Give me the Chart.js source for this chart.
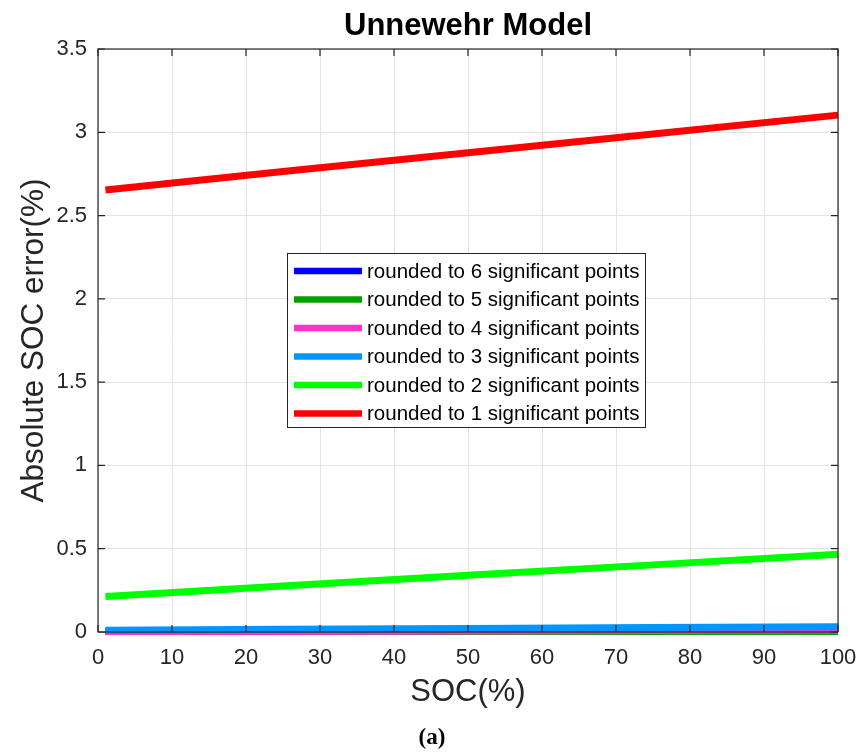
<!DOCTYPE html>
<html>
<head>
<meta charset="utf-8">
<title>Unnewehr Model</title>
<script src="https://cdn.jsdelivr.net/npm/chart.js@4.4.1/dist/chart.umd.min.js"></script>
<style>
  html, body { margin: 0; padding: 0; background: #fff; }
  #wrap { width: 861px; height: 756px; position: relative; }
</style>
</head>
<body>
<div id="wrap"><canvas id="socChart" width="861" height="756"></canvas></div>
<script>
// SOC sample points (%)
const socPoints = [1, 25, 50, 75, 100];

// absolute SOC error (%) for each rounding level
const err6 = [0.000, 0.000, 0.000, 0.000, 0.000];
const err5 = [0.000, 0.000, 0.000, 0.000, 0.000];
const err4 = [0.000, 0.003, 0.006, 0.009, 0.012];
const err3 = [0.010, 0.016, 0.021, 0.027, 0.032];
const err2 = [0.213, 0.276, 0.340, 0.403, 0.467];
const err1 = [2.653, 2.765, 2.877, 2.990, 3.103];

const seriesLabels = [
  'rounded to 6 significant points',
  'rounded to 5 significant points',
  'rounded to 4 significant points',
  'rounded to 3 significant points',
  'rounded to 2 significant points',
  'rounded to 1 significant points'
];
const seriesColors = ['#0000ff', '#00a000', '#ff33cc', '#0096ff', '#00ff00', '#ff0000'];

const xTicks = [0, 10, 20, 30, 40, 50, 60, 70, 80, 90, 100];
const yTicks = [0, 0.5, 1, 1.5, 2, 2.5, 3, 3.5];

const FONT = "'Liberation Sans', Arial, Helvetica, sans-serif";
const AXIS_COLOR = '#262626';

function toPoints(ys) {
  return socPoints.map((x, i) => ({ x: x, y: ys[i] }));
}

const allSeries = [err6, err5, err4, err3, err2, err1];

const datasets = allSeries.map((ys, i) => ({
  label: seriesLabels[i],
  data: toPoints(ys),
  borderColor: seriesColors[i],
  backgroundColor: seriesColors[i],
  borderWidth: 7,
  pointRadius: 0,
  tension: 0,
  fill: false,
  clip: 3,
  // later series sit on top, like a plot with hold on
  order: allSeries.length - i
}));

// title centred over the plot area
const plotTitle = {
  id: 'plotTitle',
  afterDraw(chart) {
    const { ctx, chartArea: a } = chart;
    ctx.save();
    ctx.fillStyle = '#000';
    ctx.font = 'bold 31px ' + FONT;
    ctx.textAlign = 'center';
    ctx.textBaseline = 'middle';
    ctx.fillText('Unnewehr Model', (a.left + a.right) / 2, 26);
    ctx.restore();
  }
};

// box around the axes with inward ticks on all four sides
const axesBox = {
  id: 'axesBox',
  afterDatasetsDraw(chart) {
    const { ctx, chartArea: a, scales } = chart;
    const tl = 7;
    ctx.save();
    ctx.strokeStyle = AXIS_COLOR;
    ctx.lineWidth = 1.2;
    ctx.strokeRect(a.left, a.top, a.right - a.left, a.bottom - a.top);
    ctx.beginPath();
    xTicks.forEach(v => {
      const px = scales.x.getPixelForValue(v);
      ctx.moveTo(px, a.bottom); ctx.lineTo(px, a.bottom - tl);
      ctx.moveTo(px, a.top); ctx.lineTo(px, a.top + tl);
    });
    yTicks.forEach(v => {
      const py = scales.y.getPixelForValue(v);
      ctx.moveTo(a.left, py); ctx.lineTo(a.left + tl, py);
      ctx.moveTo(a.right, py); ctx.lineTo(a.right - tl, py);
    });
    ctx.stroke();
    ctx.restore();
  }
};

// legend box floating inside the plot
const insideLegend = {
  id: 'insideLegend',
  afterDraw(chart) {
    const { ctx } = chart;
    const box = { x: 287.5, y: 253.5, w: 358, h: 174 };
    const rowH = 28.5;
    const firstRow = 271;
    ctx.save();
    ctx.fillStyle = '#fff';
    ctx.fillRect(box.x, box.y, box.w, box.h);
    ctx.strokeStyle = '#262626';
    ctx.lineWidth = 1;
    ctx.strokeRect(box.x, box.y, box.w, box.h);
    ctx.font = '20.5px ' + FONT;
    ctx.textBaseline = 'middle';
    chart.data.datasets.forEach((ds, i) => {
      const y = firstRow + i * rowH;
      ctx.strokeStyle = ds.borderColor;
      ctx.lineWidth = 6.5;
      ctx.beginPath();
      ctx.moveTo(294, y);
      ctx.lineTo(362, y);
      ctx.stroke();
      ctx.fillStyle = '#000';
      ctx.fillText(ds.label, 367, y + 1);
    });
    ctx.restore();
  }
};

// sub-figure caption below the x-axis title
const caption = {
  id: 'caption',
  afterDraw(chart) {
    const { ctx } = chart;
    ctx.save();
    ctx.fillStyle = '#000';
    ctx.font = "bold 23px 'Liberation Serif', 'DejaVu Serif', serif";
    ctx.textAlign = 'center';
    ctx.textBaseline = 'middle';
    ctx.fillText('(a)', 432, 738);
    ctx.restore();
  }
};

new Chart(document.getElementById('socChart'), {
  type: 'line',
  data: { datasets: datasets },
  plugins: [plotTitle, axesBox, insideLegend, caption],
  options: {
    responsive: false,
    animation: false,
    events: [],
    layout: { padding: { top: 49, right: 23, bottom: 0, left: 0 } },
    plugins: {
      legend: { display: false },
      tooltip: { enabled: false },
      title: { display: false }
    },
    scales: {
      x: {
        type: 'linear',
        min: 0,
        max: 100,
        afterFit(scale) {
          scale.height = 124;
          scale.paddingLeft = 0;
          scale.paddingRight = 0;
        },
        afterBuildTicks(scale) { scale.ticks = xTicks.map(v => ({ value: v })); },
        grid: { color: '#e3e3e3', lineWidth: 1, drawTicks: false },
        border: { display: false },
        ticks: {
          color: '#262626',
          padding: 13,
          maxRotation: 0,
          autoSkip: false,
          font: { family: FONT, size: 22 }
        },
        title: {
          display: true,
          text: 'SOC(%)',
          color: '#262626',
          font: { family: FONT, size: 31 },
          padding: { top: 0, bottom: 45 }
        }
      },
      y: {
        type: 'linear',
        min: 0,
        max: 3.5,
        afterFit(scale) {
          scale.width = 98;
          scale.paddingTop = 0;
          scale.paddingBottom = 0;
        },
        afterBuildTicks(scale) { scale.ticks = yTicks.map(v => ({ value: v })); },
        grid: { color: '#e3e3e3', lineWidth: 1, drawTicks: false },
        border: { display: false },
        ticks: {
          color: '#262626',
          padding: 11,
          autoSkip: false,
          font: { family: FONT, size: 22 },
          callback: v => String(v)
        },
        title: {
          display: true,
          text: 'Absolute SOC error(%)',
          color: '#262626',
          font: { family: FONT, size: 31.5 },
          padding: { top: 15, bottom: 0 }
        }
      }
    }
  }
});
</script>
</body>
</html>
